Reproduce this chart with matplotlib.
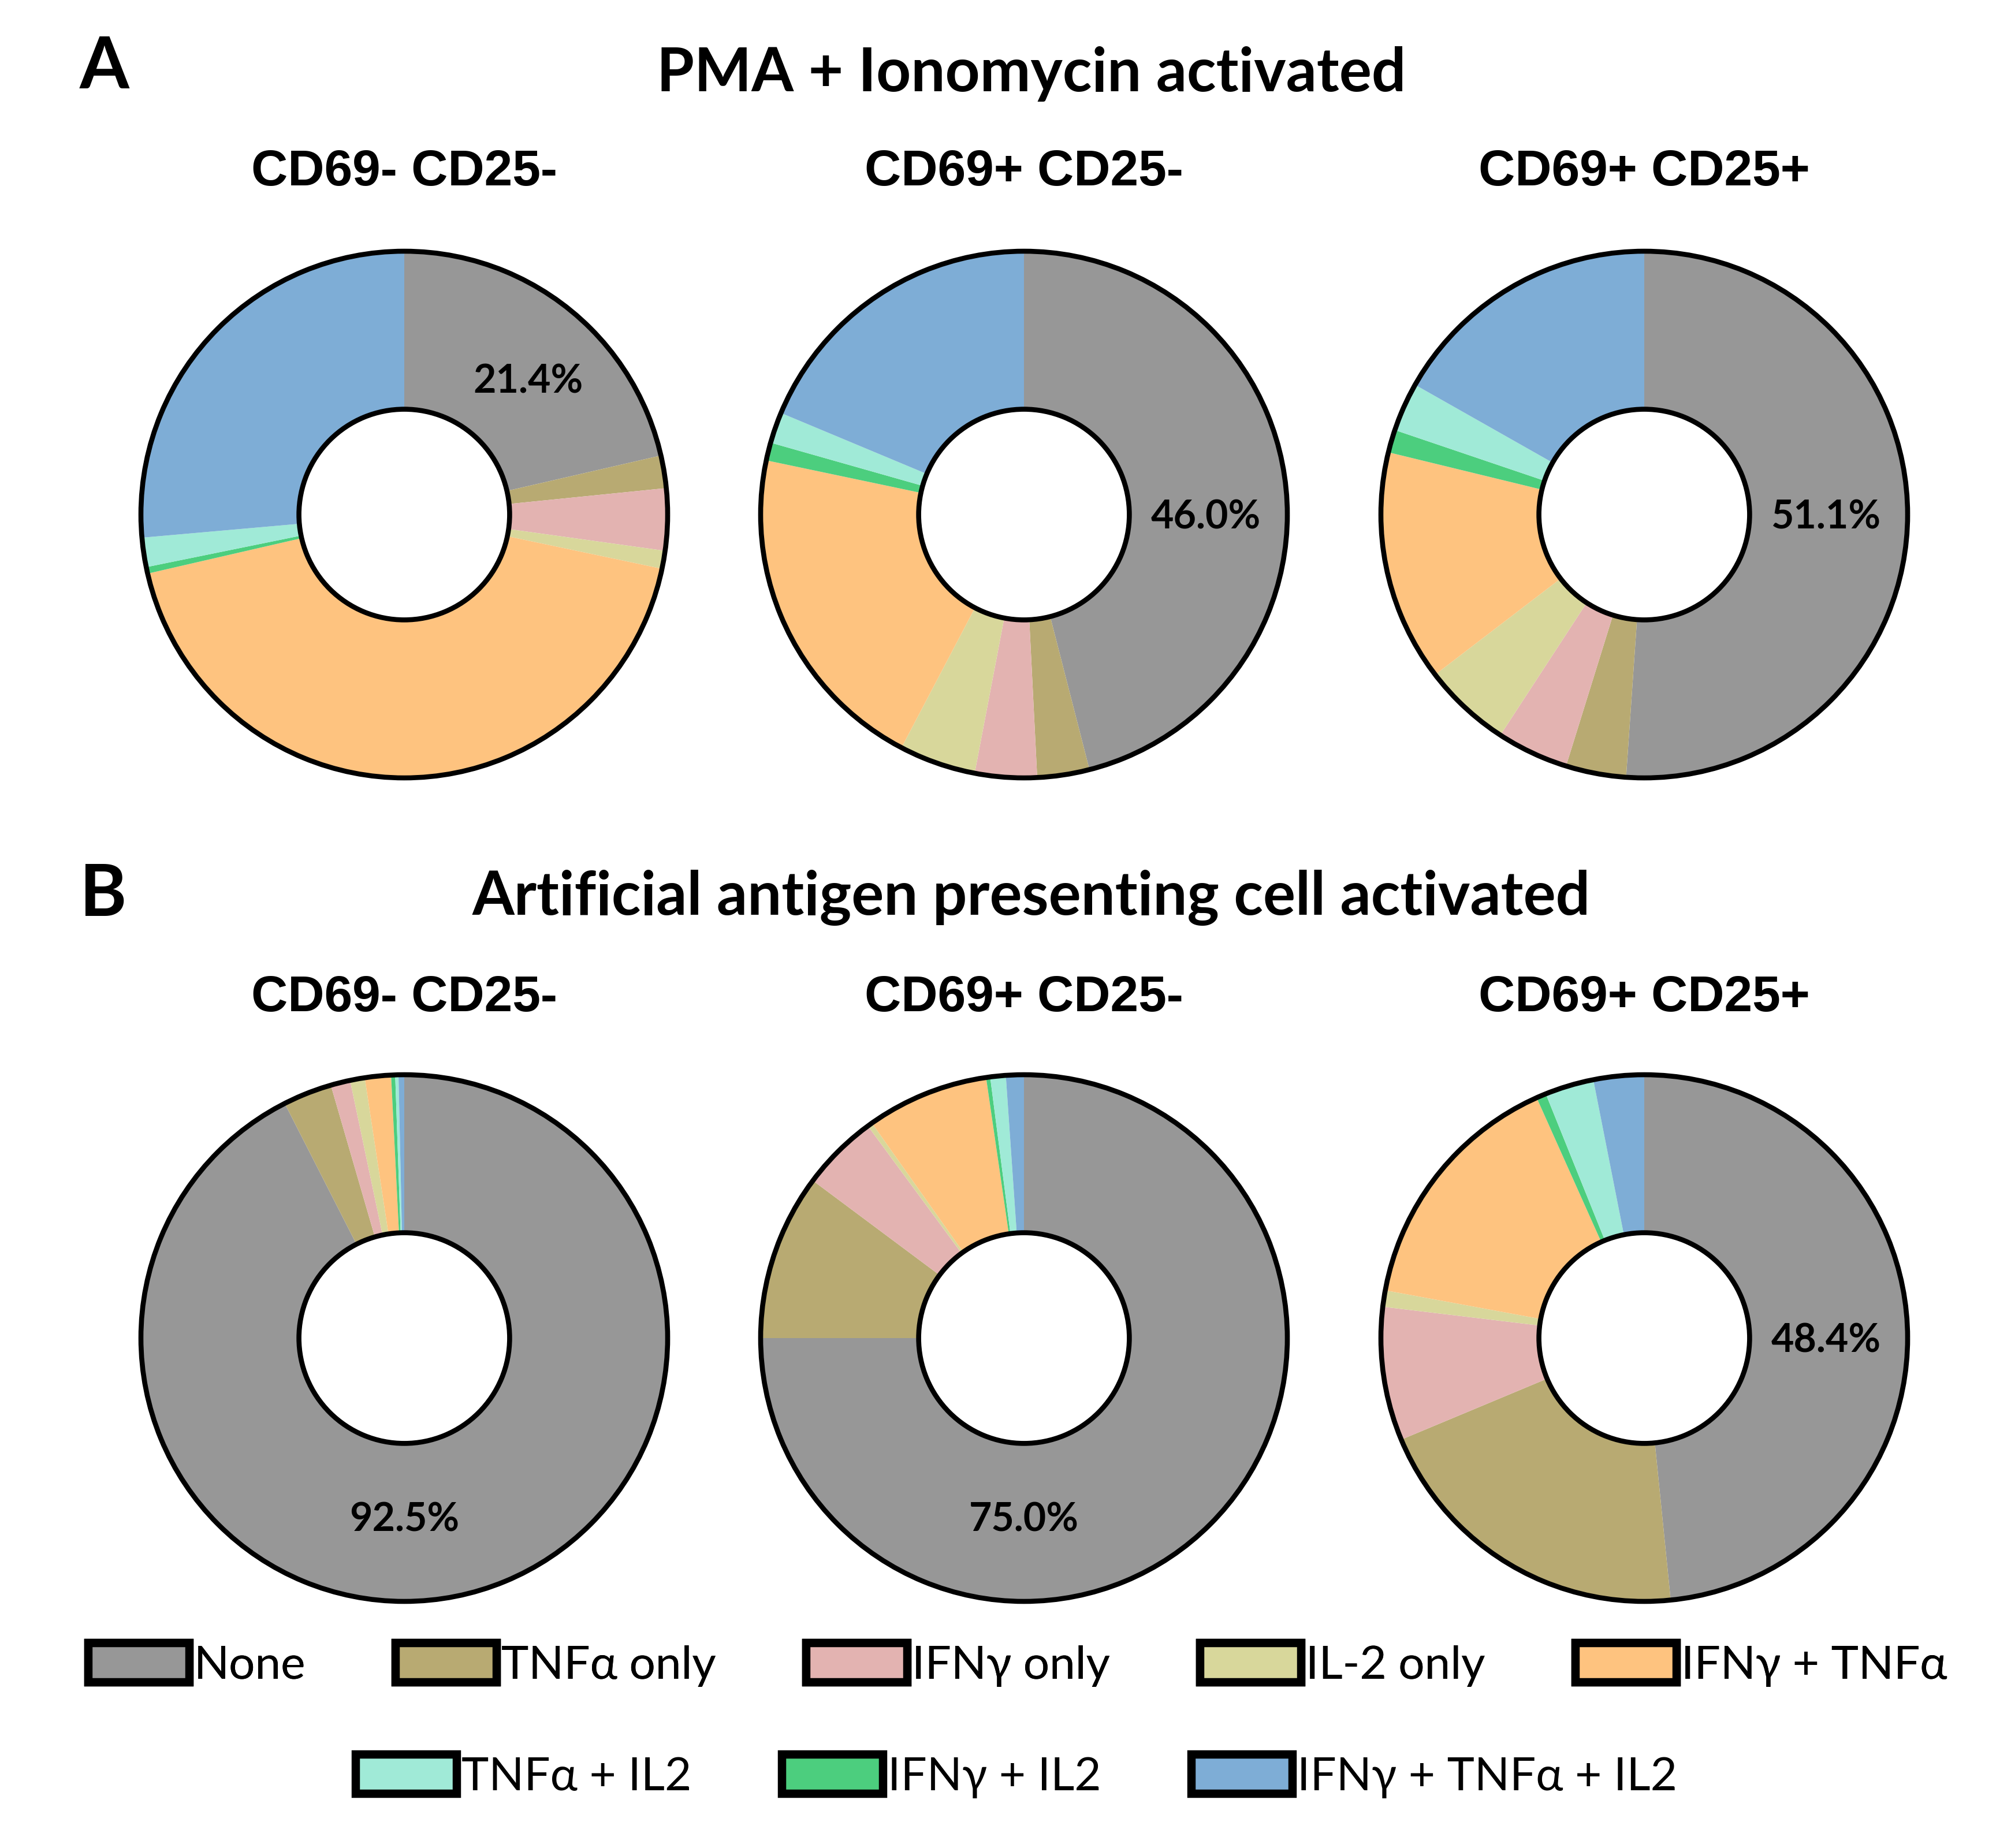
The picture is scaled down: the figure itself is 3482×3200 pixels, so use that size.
import matplotlib.pyplot as plt
import matplotlib.patches as mpatches
import numpy as np

# wedge order, clockwise from 12 o'clock
categories = ["None", "TNFα only", "IFNγ only", "IL-2 only", "IFNγ + TNFα",
              "IFNγ + IL2", "TNFα + IL2", "IFNγ + TNFα + IL2"]
colors = ["#979797", "#B8AA72", "#E3B3B1", "#D8D79B", "#FEC37F",
          "#4CCE7E", "#A0EAD7", "#7EADD6"]

legend_row1 = ["None", "TNFα only", "IFNγ only", "IL-2 only", "IFNγ + TNFα"]
legend_row2 = ["TNFα + IL2", "IFNγ + IL2", "IFNγ + TNFα + IL2"]

subsets = ["CD69- CD25-", "CD69+ CD25-", "CD69+ CD25+"]

pma_cd69n_cd25n = [21.4, 2.0, 3.8, 1.1, 43.1, 0.4, 1.8, 26.4]
pma_cd69p_cd25n = [46.0, 3.2, 3.8, 4.7, 20.6, 1.1, 1.9, 18.7]
pma_cd69p_cd25p = [51.1, 3.7, 4.4, 5.4, 14.2, 1.4, 3.0, 16.8]

aapc_cd69n_cd25n = [92.5, 3.0, 1.2, 0.9, 1.6, 0.25, 0.2, 0.35]
aapc_cd69p_cd25n = [75.0, 10.2, 4.7, 0.3, 7.5, 0.25, 0.95, 1.1]
aapc_cd69p_cd25p = [48.4, 20.3, 8.2, 1.0, 15.4, 0.6, 3.0, 3.1]

panels = [
    ("A", "PMA + Ionomycin activated",
     [pma_cd69n_cd25n, pma_cd69p_cd25n, pma_cd69p_cd25p]),
    ("B", "Artificial antigen presenting cell activated",
     [aapc_cd69n_cd25n, aapc_cd69p_cd25n, aapc_cd69p_cd25p]),
]

# where the "None" percentage sits (degrees clockwise from top)
label_angles = [[43, 91, 91], [180, 180, 91]]

W, H = 3482, 3200
TEXT = ["Lato", "DejaVu Sans"]
ARIAL = ["Liberation Sans", "DejaVu Sans"]

fig = plt.figure(figsize=(W / 100, H / 100), dpi=100)
fig.patch.set_facecolor("white")

col_x = [700, 1773, 2847]
row_y = [891, 2317]
radius_px = 456
half = 1.1 * radius_px

panel_letter_y = [153, 1586]
panel_title_y = [158, 1584]
subset_title_y = [321, 1751]

for r, (letter, title, series) in enumerate(panels):
    fig.text(138 / W, 1 - panel_letter_y[r] / H, letter, ha="left", va="baseline",
             fontsize=89, fontweight="bold", family=TEXT)
    fig.text(1786 / W, 1 - panel_title_y[r] / H, title, ha="center", va="baseline",
             fontsize=75.5, fontweight="bold", family=TEXT)
    for c, values in enumerate(series):
        ax = fig.add_axes([(col_x[c] - half) / W, (H - row_y[r] - half) / H,
                           2 * half / W, 2 * half / H])
        ax.pie(values, colors=colors, startangle=90, counterclock=False, radius=1,
               wedgeprops=dict(width=0.6, edgecolor="none", linewidth=0))
        # black outline of the ring
        ax.pie([1], colors=["none"], startangle=90, radius=1,
               wedgeprops=dict(width=0.6, edgecolor="black", linewidth=6.2))
        ax.set_xlim(-1.1, 1.1)
        ax.set_ylim(-1.1, 1.1)
        ax.set_aspect("equal")
        ang = np.deg2rad(label_angles[r][c])
        ax.text(0.69 * np.sin(ang), 0.69 * np.cos(ang), f"{values[0]:.1f}%",
                ha="center", va="center", fontsize=49, fontweight="bold", family=TEXT)
        fig.text(col_x[c] / W, 1 - subset_title_y[r] / H, subsets[c], ha="center",
                 va="baseline", fontsize=63, fontweight="bold", family=ARIAL)


def legend_handles(names):
    return [mpatches.Patch(facecolor=colors[categories.index(n)], edgecolor="black",
                           linewidth=10.4, label=n) for n in names]


leg_kw = dict(loc="center", frameon=False, handlelength=2.19, handleheight=0.92,
              handletextpad=0.1, columnspacing=1.95, borderaxespad=0,
              prop=dict(family=TEXT, size=57.6))
leg1 = fig.legend(handles=legend_handles(legend_row1), ncol=5,
                  bbox_to_anchor=(1762 / W, 1 - 2883 / H), **leg_kw)
fig.add_artist(leg1)
fig.legend(handles=legend_handles(legend_row2), ncol=3,
           bbox_to_anchor=(1760 / W, 1 - 3076 / H), **leg_kw)

fig.savefig("out.png", dpi=100, facecolor="white")
